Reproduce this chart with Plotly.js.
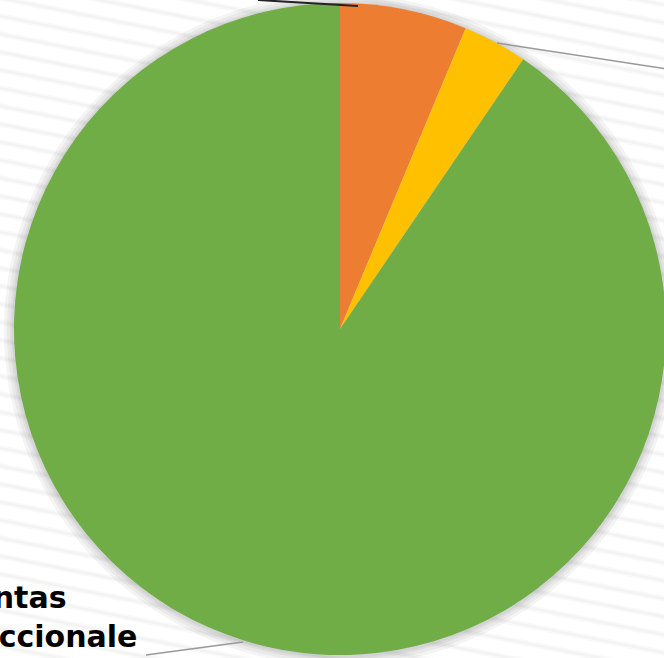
<!DOCTYPE html>
<html>
<head>
<meta charset="utf-8">
<script src="https://cdn.plot.ly/plotly-3.0.1.min.js"></script>
<style>
html,body{margin:0;padding:0;overflow:hidden;background:#fff;}
#chart{width:700px;height:658px;}
</style>
</head>
<body>
<div id="chart"></div>
<script>
// Data (shares of the pie, %)
const categories = ["Otros", "Depósitos", "Cuentas Transaccionale"];
const values = [6.3, 3.2, 90.5];
const colors = ["#ED7D31", "#FFC000", "#70AD47"];

const W = 700, H = 658;
const px = x => x / W;
const py = y => 1 - y / H;

const cx = 340, cy = 329, R = 326;

const shapes = [];
// background diagonal stripes (soft)
for (let y0 = -200; y0 < 700; y0 += 18) {
  shapes.push({type: "line", xref: "paper", yref: "paper", layer: "below",
    x0: px(-20), y0: py(y0 - 4), x1: px(720), y1: py(y0 + 0.2 * 740 - 4),
    line: {color: "rgba(0,0,0,0.022)", width: 6}});
  shapes.push({type: "line", xref: "paper", yref: "paper", layer: "below",
    x0: px(-20), y0: py(y0 - 4), x1: px(720), y1: py(y0 + 0.2 * 740 - 4),
    line: {color: "rgba(0,0,0,0.025)", width: 2.5}});
}
// soft shadow around the pie
[10, 7, 4, 2].forEach(d => {
  shapes.push({type: "circle", xref: "paper", yref: "paper", layer: "below",
    x0: px(cx - R - d), x1: px(cx + R + d), y0: py(cy + R + d + 1), y1: py(cy - R - d + 1),
    fillcolor: "rgba(0,0,0,0.045)", line: {width: 0}});
});
// leader lines
shapes.push({type: "line", xref: "paper", yref: "paper", layer: "above",
  x0: px(258), y0: py(0), x1: px(358), y1: py(6), line: {color: "#222", width: 2}});
shapes.push({type: "line", xref: "paper", yref: "paper", layer: "above",
  x0: px(497), y0: py(43), x1: px(700), y1: py(74), line: {color: "#999", width: 1.5}});
shapes.push({type: "line", xref: "paper", yref: "paper", layer: "above",
  x0: px(146), y0: py(655), x1: px(243), y1: py(642), line: {color: "#999", width: 1.5}});

const trace = {
  type: "pie",
  labels: categories,
  values: values,
  marker: {colors: colors, line: {width: 0}},
  sort: false,
  direction: "clockwise",
  rotation: 0,
  textinfo: "none",
  hoverinfo: "label+percent",
  showlegend: false,
  domain: {x: [px(cx - R), px(cx + R)], y: [py(cy + R), py(cy - R)]}
};

const labelFont = {family: "DejaVu Sans", size: 30, color: "#000", weight: 700};
const annotations = [
  {xref: "paper", yref: "paper", x: px(69), y: py(597), xanchor: "right", yanchor: "middle",
   text: "Cuentas", showarrow: false, font: labelFont},
  {xref: "paper", yref: "paper", x: px(139), y: py(636), xanchor: "right", yanchor: "middle",
   text: "Transaccionale", showarrow: false, font: labelFont}
];

Plotly.newPlot("chart", [trace], {
  width: W, height: H,
  margin: {l: 0, r: 0, t: 0, b: 0},
  paper_bgcolor: "#ffffff",
  shapes: shapes,
  annotations: annotations
}, {displayModeBar: false, staticPlot: true});
</script>
</body>
</html>
